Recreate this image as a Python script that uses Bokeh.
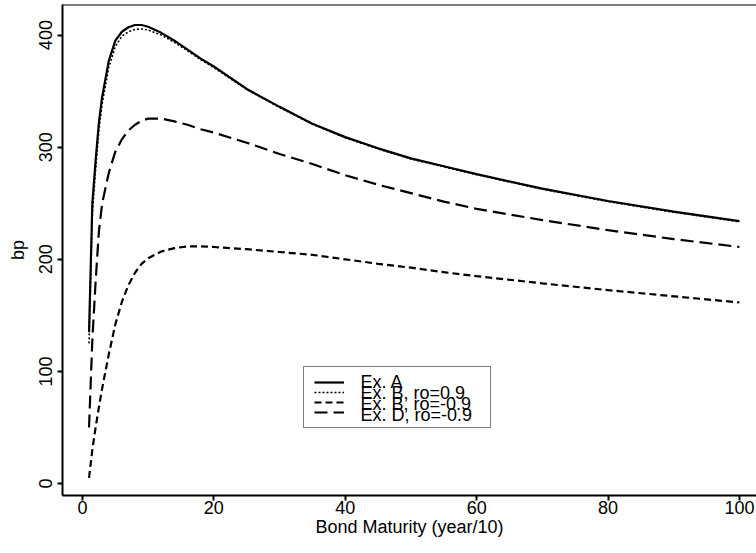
from bokeh.plotting import figure
from bokeh.models import Range1d, Span, Legend, LegendItem, FixedTicker, Label
from bokeh.embed import file_html
from bokeh.resources import INLINE

# ---- data ----
maturity = [1, 1.5, 2, 2.5, 3, 4, 5, 6, 7, 8, 9, 10, 12, 14, 16, 18, 20,
            25, 30, 35, 40, 45, 50, 55, 60, 70, 80, 90, 100]
ex_a = [135, 250, 288, 322, 345, 377, 395, 403, 407, 409, 409, 407.5, 402, 395,
        387, 379, 372, 352, 336, 321, 309, 299, 290, 283, 276, 263, 252, 242.5, 234]
ex_b_pos = [125, 240, 280, 315, 339, 371, 390, 399, 403, 405, 405.5, 404.5, 400, 393.5,
            386, 378, 371, 351.5, 335.5, 320.5, 308.5, 298.5, 289.5, 282.5, 275.5,
            262.5, 251.5, 242, 233.5]
ex_b_neg = [5, 30, 50, 68, 85, 115, 142, 162, 177, 188, 196, 201, 207, 210,
            211.5, 211.5, 211, 209, 206.5, 204, 200, 196, 192.5, 188.5, 185,
            178.5, 172.5, 167, 161.5]
ex_d_neg = [50, 128, 180, 225, 250, 277, 296, 307, 315, 320, 323.5, 325.5, 325.5, 323,
            320, 316, 313, 304, 294, 285, 275, 266.5, 259, 251.5, 245, 235, 226, 218, 211]
labels = ["Ex. A", "Ex. B, ro=0.9", "Ex. B, ro=-0.9", "Ex. D, ro=-0.9"]
x_ticks = [0, 20, 40, 60, 80, 100]
y_ticks = [0, 100, 200, 300, 400]

FONT = "Liberation Sans"
Y_TOP = 427.3

p = figure(width=756, height=553, output_backend="svg", toolbar_location=None,
           x_range=Range1d(-3.04, 102.6), y_range=Range1d(-10.7, Y_TOP),
           min_border_left=62, min_border_right=0, min_border_top=4,
           min_border_bottom=58)
p.outline_line_color = None
p.grid.visible = False
p.background_fill_color = "white"

r_a = p.line(maturity, ex_a, line_color="black", line_width=2.2)
r_b1 = p.line(maturity, ex_b_pos, line_color="black", line_width=1.6, line_dash="2 2")
r_b2 = p.line(maturity, ex_b_neg, line_color="black", line_width=2.2, line_dash="7 4")
r_d = p.line(maturity, ex_d_neg, line_color="black", line_width=2.2, line_dash="13 6")

# top border of the box
p.add_layout(Span(location=Y_TOP, dimension="width", line_color="black", line_width=2))

for ax in (p.xaxis[0], p.yaxis[0]):
    ax.axis_line_width = 2
    ax.axis_line_color = "black"
    ax.major_tick_line_width = 2
    ax.major_tick_out = 5
    ax.major_tick_in = 0
    ax.minor_tick_line_color = None
    ax.major_label_text_font = FONT
    ax.major_label_text_font_size = "18px"
    ax.major_label_text_color = "black"
    ax.axis_label_text_font = FONT
    ax.axis_label_text_font_size = "18px"
    ax.axis_label_text_font_style = "normal"
    ax.axis_label_text_color = "black"

p.xaxis.ticker = FixedTicker(ticks=x_ticks)
p.yaxis.ticker = FixedTicker(ticks=y_ticks)
p.yaxis.major_label_orientation = "vertical"
p.xaxis.axis_label = "Bond Maturity (year/10)"
p.yaxis.axis_label = "bp"
p.xaxis.major_label_standoff = 0
p.xaxis.axis_label_standoff = 0
p.yaxis.major_label_standoff = 5
p.yaxis.axis_label_standoff = 9

# legend: compact rows (glyph samples from Bokeh's legend, texts as labels)
legend = Legend(items=[LegendItem(label=" ", renderers=[r]) for r in (r_a, r_b1, r_b2, r_d)],
                location=(241, 67), border_line_color="black", border_line_width=1.5,
                background_fill_color="white", background_fill_alpha=0,
                label_text_font=FONT, label_text_font_size="1px",
                glyph_width=30, glyph_height=10, label_height=10, label_width=126,
                spacing=0, padding=10, label_standoff=10, margin=0)
p.add_layout(legend)

row_y = [114, 103, 92, 81]
for txt, yy in zip(labels, row_y):
    p.add_layout(Label(x=298, y=yy, x_units="screen", y_units="screen", text=txt,
                       text_font=FONT, text_font_size="18px", text_color="black",
                       text_align="left", text_baseline="middle"))

open("out.html", "w").write(file_html(p, INLINE))
